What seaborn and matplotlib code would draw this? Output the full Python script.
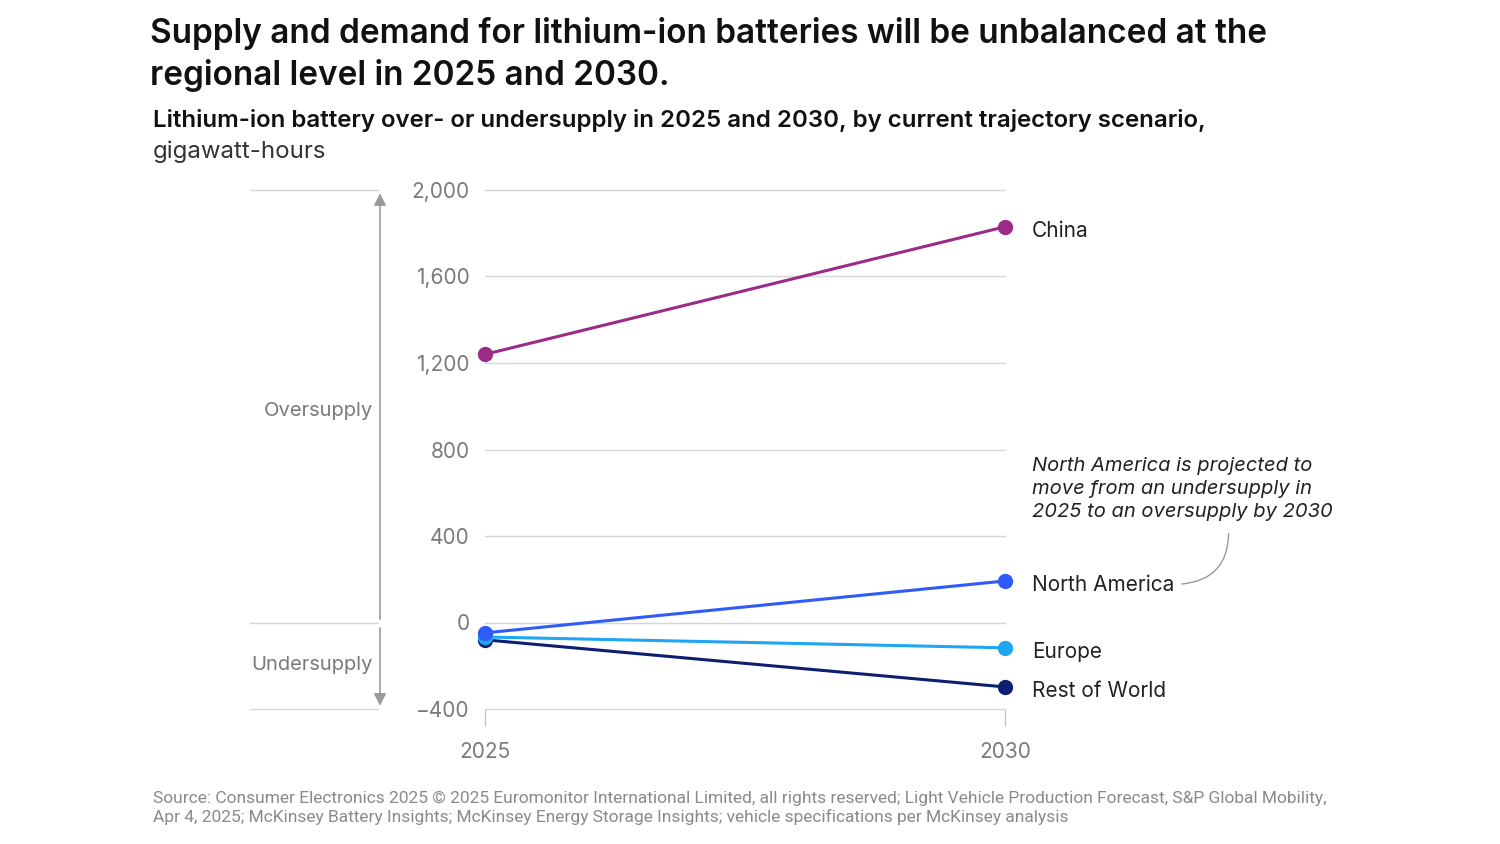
import matplotlib
matplotlib.use("Agg")
import matplotlib.pyplot as plt
import matplotlib.transforms as mtransforms
import pandas as pd
import seaborn as sns

# ── Data ──────────────────────────────────────────────────────────────────────
years = [2025, 2030]
regions = ["China", "North America", "Europe", "Rest of World"]
china = [1240, 1830]
north_america = [-48, 192]
europe = [-67, -117]
rest_of_world = [-80, -298]
y_ticks = [-400, 0, 400, 800, 1200, 1600, 2000]

palette = {
    "China": "#9C2A87",
    "North America": "#2F5BFB",
    "Europe": "#1EA6F2",
    "Rest of World": "#0C1F70",
}

rows = []
for name, vals in zip(regions, [china, north_america, europe, rest_of_world]):
    for yr, v in zip(years, vals):
        rows.append({"year": yr, "region": name, "value": v})
df = pd.DataFrame(rows)

# ── Figure ────────────────────────────────────────────────────────────────────
sns.set_theme(style="white")
plt.rcParams["font.family"] = ["Inter", "DejaVu Sans"]

fig = plt.figure(figsize=(15, 8.44), dpi=100)
ax = fig.add_axes([485 / 1500, 1 - 709 / 844, 520 / 1500, 519 / 844])

sns.lineplot(data=df, x="year", y="value", hue="region", palette=palette,
             hue_order=regions[::-1], linewidth=2.2, marker="o", markersize=11,
             markeredgewidth=0, legend=False, ax=ax, zorder=3)
for ln in ax.lines:
    ln.set_clip_on(False)

ax.set_xlim(2025, 2030)
ax.set_ylim(-400, 2000)
ax.set_yticks(y_ticks)
ax.set_yticklabels([f"{t:,}".replace("-", "\u2212") for t in y_ticks],
                   fontsize=15, color="#7a7a7a")
ax.set_xticks(years)
ax.set_xticklabels([str(y) for y in years], fontsize=15, color="#7a7a7a")
ax.tick_params(axis="y", length=0, pad=11)
ax.tick_params(axis="x", bottom=True, length=12, width=1, color="#c8c8c8",
               pad=12, direction="out")
ax.grid(axis="y", color="#d6d6d6", linewidth=1)
ax.grid(axis="x", visible=False)
for gl in ax.get_ygridlines():
    gl.set_clip_on(False)
for s in ax.spines.values():
    s.set_visible(False)
ax.set_xlabel("")
ax.set_ylabel("")
ax.set_axisbelow(True)

# ── Left side over/undersupply guide ──────────────────────────────────────────
bt = mtransforms.blended_transform_factory(ax.transAxes, ax.transData)
gx0, gx1 = (250 - 485) / 520, (378 - 485) / 520
for yv in [2000, 0, -400]:
    ax.plot([gx0, gx1], [yv, yv], transform=bt, color="#d6d6d6", lw=1, clip_on=False)
axx = (380 - 485) / 520
arrow_kw = dict(arrowstyle="-|>,head_length=0.6,head_width=0.3", color="#9a9a9a", lw=1.2,
                shrinkA=0, shrinkB=0)
ax.annotate("", xy=(axx, 1985), xytext=(axx, 15), xycoords=bt, textcoords=bt,
            arrowprops=arrow_kw, annotation_clip=False)
ax.annotate("", xy=(axx, -385), xytext=(axx, -25), xycoords=bt, textcoords=bt,
            arrowprops=arrow_kw, annotation_clip=False)
lx = (373 - 485) / 520
ax.text(lx, 980, "Oversupply", transform=bt, ha="right", va="center",
        fontsize=14.5, color="#7a7a7a")
ax.text(lx, -198, "Undersupply", transform=bt, ha="right", va="center",
        fontsize=14.5, color="#7a7a7a")

# ── End labels ────────────────────────────────────────────────────────────────
for name, vals in zip(regions, [china, north_america, europe, rest_of_world]):
    ax.text(2030.26, vals[-1] - 10, name, ha="left", va="center_baseline", fontsize=15,
            color="#222222", clip_on=False)

# ── Annotation ────────────────────────────────────────────────────────────────
ax.text(2030.26, 618, "North America is projected to\nmove from an undersupply in\n"
        "2025 to an oversupply by 2030", ha="left", va="center", fontsize=14.5,
        style="italic", color="#222222", linespacing=1.38)
ax.annotate("", xy=(2031.70, 178), xytext=(2032.15, 412),
            arrowprops=dict(arrowstyle="-", color="#9a9a9a", lw=1,
                            connectionstyle="arc3,rad=-0.45", shrinkA=0, shrinkB=0),
            annotation_clip=False)

# ── Titles ────────────────────────────────────────────────────────────────────
fig.text(150 / 1500, 1 - 33 / 844,
         "Supply and demand for lithium-ion batteries will be unbalanced at the",
         ha="left", va="center", fontsize=24, fontweight="semibold", color="#111111")
fig.text(150 / 1500, 1 - 75 / 844, "regional level in 2025 and 2030.",
         ha="left", va="center", fontsize=24, fontweight="semibold", color="#111111")
fig.text(153 / 1500, 1 - 121 / 844,
         "Lithium-ion battery over- or undersupply in 2025 and 2030, by current trajectory scenario,",
         ha="left", va="center", fontsize=17.3, fontweight="semibold", color="#111111")
fig.text(153 / 1500, 1 - 152 / 844, "gigawatt-hours",
         ha="left", va="center", fontsize=17.3, color="#333333")

fig.text(153 / 1500, 1 - 808 / 844,
         "Source: Consumer Electronics 2025 \u00a9 2025 Euromonitor International Limited, "
         "all rights reserved; Light Vehicle Production Forecast, S&P Global Mobility,\n"
         "Apr 4, 2025; McKinsey Battery Insights; McKinsey Energy Storage Insights; "
         "vehicle specifications per McKinsey analysis",
         ha="left", va="center", fontsize=12.5, color="#8a8a8a",
         family=["Roboto", "DejaVu Sans"], linespacing=1.3)

fig.savefig("out.png", dpi=100)
